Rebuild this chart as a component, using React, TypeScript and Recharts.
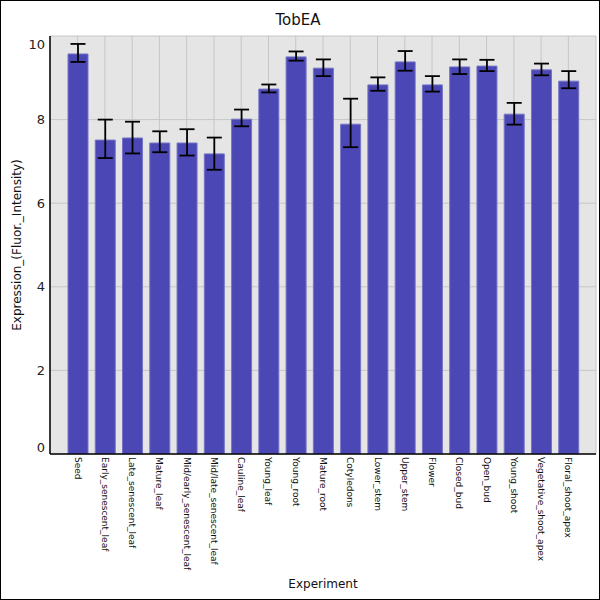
import React from "react";
import { BarChart, Bar, XAxis, YAxis, CartesianGrid, ErrorBar } from "recharts";

const categories = [
  "Seed",
  "Early_senescent_leaf",
  "Late_senescent_leaf",
  "Mature_leaf",
  "Mid/early_senescent_leaf",
  "Mid/late_senescent_leaf",
  "Cauline_leaf",
  "Young_leaf",
  "Young_root",
  "Mature_root",
  "Cotyledons",
  "Lower_stem",
  "Upper_stem",
  "Flower",
  "Closed_bud",
  "Open_bud",
  "Young_shoot",
  "Vegetative_shoot_apex",
  "Floral_shoot_apex",
];

const expression = [
  9.57, 7.51, 7.56, 7.44, 7.44, 7.18, 8.01, 8.73, 9.5, 9.23, 7.89, 8.83, 9.38,
  8.83, 9.26, 9.28, 8.13, 9.19, 8.92,
];

const errorMinus = [
  0.19, 0.43, 0.37, 0.22, 0.3, 0.38, 0.17, 0.08, 0.09, 0.19, 0.55, 0.14, 0.21,
  0.16, 0.17, 0.12, 0.25, 0.13, 0.17,
];

const errorPlus = [
  0.24, 0.49, 0.39, 0.28, 0.33, 0.39, 0.23, 0.11, 0.13, 0.21, 0.61, 0.18, 0.26,
  0.21, 0.18, 0.15, 0.27, 0.15, 0.24,
];

const yTicks = [0, 2, 4, 6, 8, 10];

const data = categories.map((name, i) => ({
  name,
  value: expression[i],
  err: [errorMinus[i], errorPlus[i]],
}));

const FONT = "'DejaVu Sans', sans-serif";

const YTick = (props: any) => {
  const { x, y, payload } = props;
  let shift = 0;
  if (payload.value === 10) shift = 8;
  if (payload.value === 0) shift = -7;
  return (
    <text
      x={x}
      y={y + shift}
      textAnchor="end"
      dominantBaseline="central"
      fontSize={13}
      fontFamily={FONT}
      fill="#222"
    >
      {payload.value}
    </text>
  );
};

const XTick = (props: any) => {
  const { x, y, payload } = props;
  return (
    <text
      transform={`translate(${x},${y}) rotate(90)`}
      textAnchor="start"
      dominantBaseline="central"
      fontSize={9}
      fontFamily={FONT}
      fill="#111"
    >
      {payload.value}
    </text>
  );
};

const YLabel = (props: any) => {
  const vb = props.viewBox || { x: 0, y: 36, width: 50, height: 418 };
  const cx = vb.x + 17;
  const cy = vb.y + vb.height / 2;
  return (
    <text
      transform={`translate(${cx},${cy}) rotate(-90)`}
      textAnchor="middle"
      dominantBaseline="central"
      fontSize={12}
      fontFamily={FONT}
      fill="#111"
    >
      Expression_(Fluor._Intensity)
    </text>
  );
};

const XLabel = (props: any) => {
  const vb = props.viewBox || { x: 50, y: 454, width: 546, height: 146 };
  return (
    <text
      x={vb.x + vb.width / 2}
      y={vb.y + vb.height - 16}
      textAnchor="middle"
      dominantBaseline="central"
      fontSize={12}
      fontFamily={FONT}
      fill="#111"
    >
      Experiment
    </text>
  );
};

export default function App() {
  return (
    <div
      style={{
        position: "absolute",
        left: 0,
        top: 0,
        width: 600,
        height: 600,
        background: "#fff",
        fontFamily: FONT,
      }}
    >
      <BarChart
        width={600}
        height={600}
        data={data}
        margin={{ top: 36, right: 4, left: 0, bottom: 0 }}
      >
        <CartesianGrid fill="#e5e5e5" stroke="#c6c6c6" strokeWidth={1} />
        <XAxis
          dataKey="name"
          interval={0}
          height={146}
          padding={{ left: 14, right: 14 }}
          tickLine={false}
          tickSize={0}
          tickMargin={3}
          tick={<XTick />}
          axisLine={{ stroke: "#000", strokeWidth: 1.5 }}
          label={<XLabel />}
        />
        <YAxis
          width={50}
          domain={[0, 10]}
          ticks={yTicks}
          allowDataOverflow
          tickLine={false}
          tickSize={0}
          tickMargin={5}
          tick={<YTick />}
          axisLine={{ stroke: "#000", strokeWidth: 1.5 }}
          label={<YLabel />}
        />
        <Bar
          dataKey="value"
          barSize={20}
          fill="#4b47b4"
          stroke="#7674c6"
          strokeWidth={1}
          isAnimationActive={false}
        >
          <ErrorBar
            dataKey="err"
            width={7.5}
            stroke="#000"
            strokeWidth={1.8}
            isAnimationActive={false}
          />
        </Bar>
      </BarChart>
      <div
        style={{
          position: "absolute",
          left: 0,
          top: 11,
          width: 596,
          textAlign: "center",
          fontSize: 15,
          lineHeight: "18px",
          color: "#111",
        }}
      >
        TobEA
      </div>
      <div
        style={{
          position: "absolute",
          left: 0,
          top: 0,
          width: 600,
          height: 600,
          boxSizing: "border-box",
          border: "1px solid #000",
          pointerEvents: "none",
        }}
      />
    </div>
  );
}
